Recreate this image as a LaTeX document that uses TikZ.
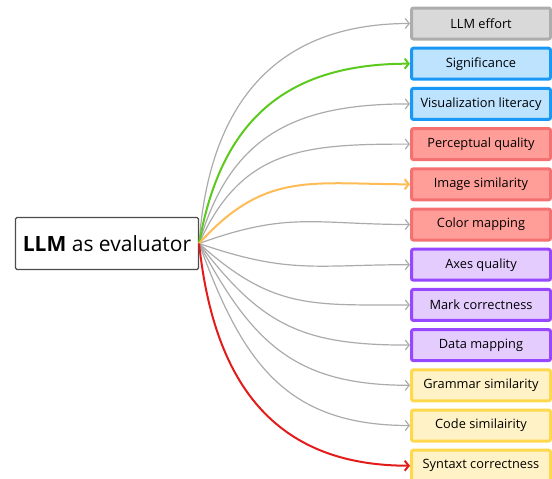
\documentclass[tikz,border=0pt]{standalone}
\usepackage{fontspec}
\setmainfont{Open Sans}
\usetikzlibrary{arrows.meta}
\definecolor{linkgray}{HTML}{ABABAB}
\definecolor{effortfill}{HTML}{D9D9D9}
\definecolor{effortline}{HTML}{ADADAD}
\definecolor{sigfill}{HTML}{BDE3FF}
\definecolor{sigline}{HTML}{1A98F5}
\definecolor{percfill}{HTML}{FF9E98}
\definecolor{percline}{HTML}{F57171}
\definecolor{markfill}{HTML}{E4CCFF}
\definecolor{markline}{HTML}{9747FF}
\definecolor{codefill}{HTML}{FFF2C6}
\definecolor{codeline}{HTML}{FFD84D}

\begin{document}
\begin{tikzpicture}[x=1pt,y=-1pt,
    metric/.style={draw,line width=3pt,rounded corners=2pt,minimum width=139pt,
      minimum height=31pt,inner sep=0pt,font=\fontsize{12.8}{15}\selectfont},
    effort/.style={metric,draw=effortline,fill=effortfill},
    insight/.style={metric,draw=sigline,fill=sigfill},
    visual/.style={metric,draw=percline,fill=percfill},
    chart/.style={metric,draw=markline,fill=markfill},
    program/.style={metric,draw=codeline,fill=codefill},
    link/.style={linkgray,line width=1.2pt,looseness=1.15,-{Straight Barb[length=4pt,width=10pt]}},
    hilite/.style={line width=2pt}]
    \useasboundingbox (0,0) rectangle (552,479);
    \node[draw=black!70,line width=1.2pt,rounded corners=1.5pt,minimum width=183pt,
      minimum height=52pt,font=\fontsize{21}{25}\selectfont] (llm) at (107,243.5)
      {\textbf{LLM} as evaluator};
    %criteria, top to bottom
    \foreach \name/\txt/\kind [count=\i] in {
        effort/LLM effort/effort,
        signif/Significance/insight,
        vislit/Visualization literacy/insight,
        percep/Perceptual quality/visual,
        imgsim/Image similarity/visual,
        colmap/Color mapping/visual,
        axes/Axes quality/chart,
        markc/Mark correctness/chart,
        datamap/Data mapping/chart,
        gramsim/Grammar similarity/program,
        codesim/Code similairity/program,
        syntax/Syntaxt correctness/program}
      \node[\kind] (\name) at (481,{23.5+40.2*(\i-1)}) {\txt};
    \foreach \name/\ang in {effort/86,vislit/74,percep/66,colmap/20,
        axes/-19,markc/-42,datamap/-53,gramsim/-62,codesim/-70}
      \draw[link] (llm.east) to[out=\ang,in=180] (\name.west);
    \draw[link,hilite,color={rgb,255:red,92;green,201;blue,30}] (llm.east) to[out=80,in=180] (signif.west);
    \draw[link,hilite,color={rgb,255:red,255;green,187;blue,85}] (llm.east) to[out=48,in=180] (imgsim.west);
    \draw[link,hilite,color={rgb,255:red,227;green,27;blue,27}] (llm.east) to[out=-84,in=180] (syntax.west);
\end{tikzpicture}
\end{document}
